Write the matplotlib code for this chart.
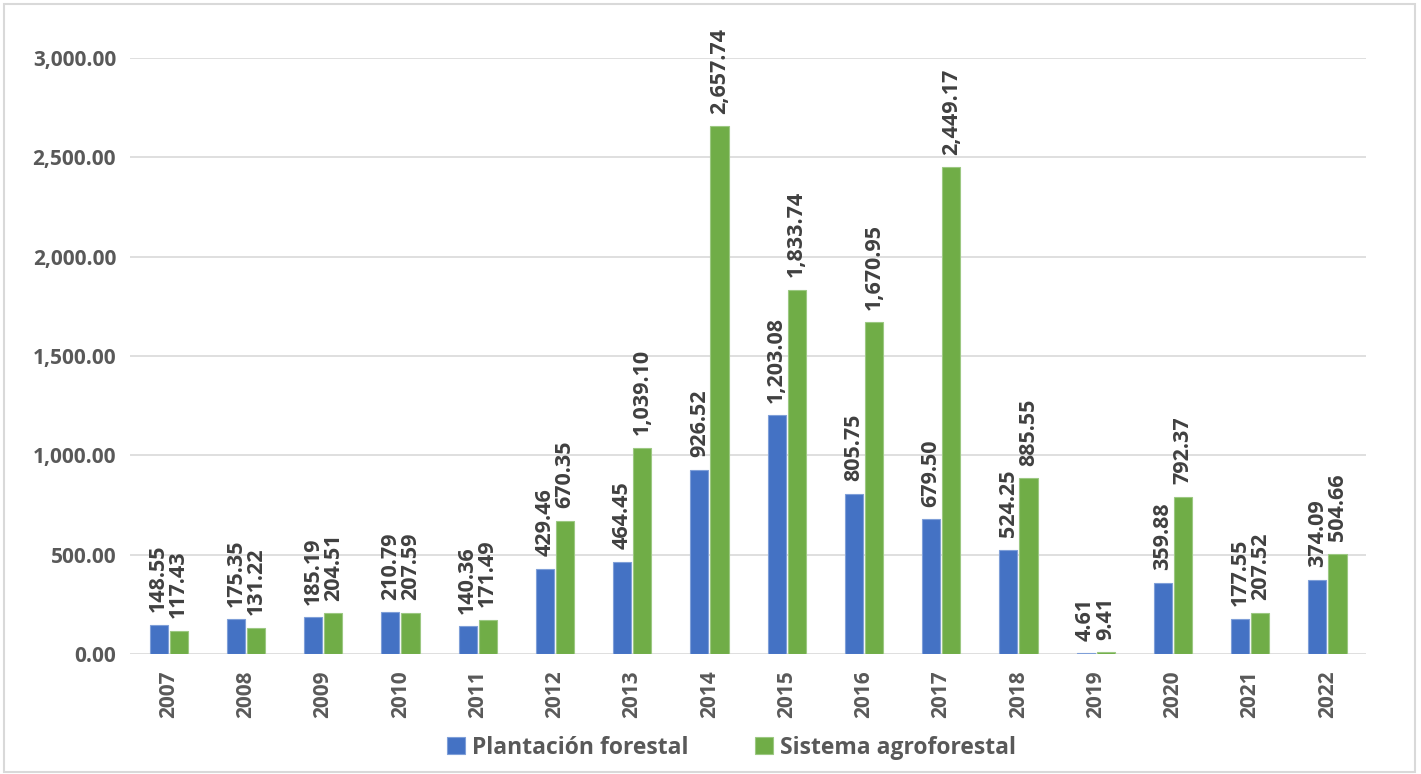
import matplotlib
matplotlib.use("Agg")
import matplotlib.pyplot as plt
import numpy as np
from matplotlib.patches import Rectangle

plt.rcParams.update({"font.family": ["Open Sans", "DejaVu Sans"], "font.weight": "bold"})

years = ["2007", "2008", "2009", "2010", "2011", "2012", "2013", "2014",
         "2015", "2016", "2017", "2018", "2019", "2020", "2021", "2022"]
plantacion = [148.55, 175.35, 185.19, 210.79, 140.36, 429.46, 464.45, 926.52,
              1203.08, 805.75, 679.50, 524.25, 4.61, 359.88, 177.55, 374.09]
agroforestal = [117.43, 131.22, 204.51, 207.59, 171.49, 670.35, 1039.10, 2657.74,
                1833.74, 1670.95, 2449.17, 885.55, 9.41, 792.37, 207.52, 504.66]
y_ticks = [0, 500, 1000, 1500, 2000, 2500, 3000]

BLUE = "#4472C4"
GREEN = "#70AD47"
TEXT = "#404040"
TICK = "#595959"

fig = plt.figure(figsize=(14.21, 7.74), dpi=100)
ax = fig.add_axes([0.0915, 0.155, 0.8698, 0.770])

x = np.arange(len(years))
w = 0.235
gap = 0.025
b1 = ax.bar(x - w / 2 - gap / 2, plantacion, w, color=BLUE, edgecolor="#7f9fd8",
            linewidth=0.8, label="Plantación forestal", zorder=3)
b2 = ax.bar(x + w / 2 + gap / 2, agroforestal, w, color=GREEN, edgecolor="#9cc882",
            linewidth=0.8, label="Sistema agroforestal", zorder=3)

for bars, vals in ((b1, plantacion), (b2, agroforestal)):
    for rect, v in zip(bars, vals):
        ax.annotate(f"{v:,.2f}", (rect.get_x() + rect.get_width() / 2, v),
                    xytext=(0, 9), textcoords="offset points", rotation=90,
                    ha="center", va="bottom", fontsize=15.5, color=TEXT,
                    fontweight="bold", annotation_clip=False)

ax.set_xlim(-0.5, len(years) - 0.5)
ax.set_ylim(0, 3000)
ax.set_yticks(y_ticks)
ax.set_yticklabels([f"{t:,.2f}" for t in y_ticks], fontsize=15, color=TICK, fontweight="bold")
ax.set_xticks(x)
ax.set_xticklabels(years, rotation=90, fontsize=15, color=TICK, fontweight="bold")
ax.tick_params(length=0, pad=12)
ax.tick_params(axis="y", pad=10)
ax.grid(axis="y", color="#D9D9D9", linewidth=1.2, zorder=0)
for s in ax.spines.values():
    s.set_visible(False)

leg = ax.legend(loc="center", bbox_to_anchor=(0.5148, 0.034), bbox_transform=fig.transFigure,
                ncol=2, frameon=False, prop={"size": 16.5, "weight": "bold"},
                handlelength=0.8, handleheight=0.8, handletextpad=0.3, columnspacing=2.9)
for t in leg.get_texts():
    t.set_color(TICK)

fig.patches.append(Rectangle((4 / 1421, 2 / 774), 1411 / 1421, 768 / 774,
                             transform=fig.transFigure, fill=False,
                             edgecolor="#D9D9D9", linewidth=1.5))

fig.savefig("out.png", dpi=100)
